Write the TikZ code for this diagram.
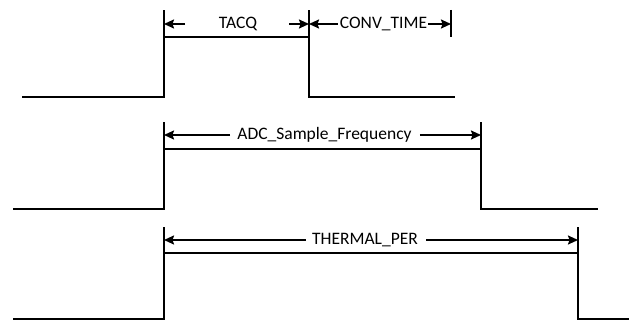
\documentclass[tikz,border=0pt]{standalone}
\usepackage{fontspec}
\setmainfont{Carlito}
\usetikzlibrary{arrows.meta}
\tikzset{
  wave/.style={line width=2pt},
  marker/.style={line width=2pt},
  dim/.style={line width=1.8pt,-{Stealth[length=10pt,width=9pt,inset=1.5pt]}},
  lbl/.style={inner sep=0pt,font=\fontsize{17.5}{20}\selectfont},
}
\begin{document}
\begin{tikzpicture}[x=1pt,y=-1pt]
\useasboundingbox (0,0) rectangle (629,320);
% waveform 1
\coordinate (a0) at (22,97);
\coordinate (a1) at (164,97);
\coordinate (a2) at (164,37);
\coordinate (a3) at (309,37);
\coordinate (a4) at (309,97);
\coordinate (a5) at (455,97);
\coordinate (m1) at (164,10);
\coordinate (m2) at (309,10);
\coordinate (m3t) at (451,10);
\coordinate (m3b) at (451,37);
\draw[wave] (a0) -- (a1) -- (a2) -- (a3) -- (a4) -- (a5);
\draw[marker] (a2) -- (m1);
\draw[marker] (a3) -- (m2);
\draw[marker] (m3t) -- (m3b);
\node[lbl] (tacq) at (238,24) {TACQ};
\node[lbl] (conv) at (383.5,24) {CONV\_TIME};
\coordinate (t1) at (164,24);
\coordinate (t2) at (309,24);
\coordinate (t3) at (451,24);
\draw[dim] ([xshift=-53pt]tacq.center) -- (t1);
\draw[dim] ([xshift=51pt]tacq.center) -- (t2);
\draw[dim] ([xshift=-2pt]conv.west) -- (t2);
\draw[dim] ([xshift=1pt]conv.east) -- (t3);
% waveform 2
\coordinate (b0) at (13,209);
\coordinate (b1) at (164,209);
\coordinate (b2) at (164,149);
\coordinate (b3) at (481,149);
\coordinate (b4) at (481,209);
\coordinate (b5) at (598,209);
\coordinate (n1) at (164,122);
\coordinate (n2) at (481,122);
\draw[wave] (b0) -- (b1) -- (b2) -- (b3) -- (b4) -- (b5);
\draw[marker] (b2) -- (n1);
\draw[marker] (b3) -- (n2);
\node[lbl] (adc) at (324.5,135) {ADC\_Sample\_Frequency};
\coordinate (u1) at (164,135);
\coordinate (u2) at (481,135);
\draw[dim] ([xshift=-7pt]adc.west) -- (u1);
\draw[dim] ([xshift=8pt]adc.east) -- (u2);
% waveform 3
\coordinate (c0) at (13,319);
\coordinate (c1) at (164,319);
\coordinate (c2) at (164,253);
\coordinate (c3) at (578,253);
\coordinate (c4) at (578,319);
\coordinate (c5) at (629,319);
\coordinate (p1) at (164,227);
\coordinate (p2) at (578,227);
\draw[wave] (c0) -- (c1) -- (c2) -- (c3) -- (c4) -- (c5);
\draw[marker] (c2) -- (p1);
\draw[marker] (c3) -- (p2);
\node[lbl] (therm) at (365,240) {THERMAL\_PER};
\coordinate (v1) at (164,240);
\coordinate (v2) at (578,240);
\draw[dim] ([xshift=-6pt]therm.west) -- (v1);
\draw[dim] ([xshift=8pt]therm.east) -- (v2);
\end{tikzpicture}
\end{document}
